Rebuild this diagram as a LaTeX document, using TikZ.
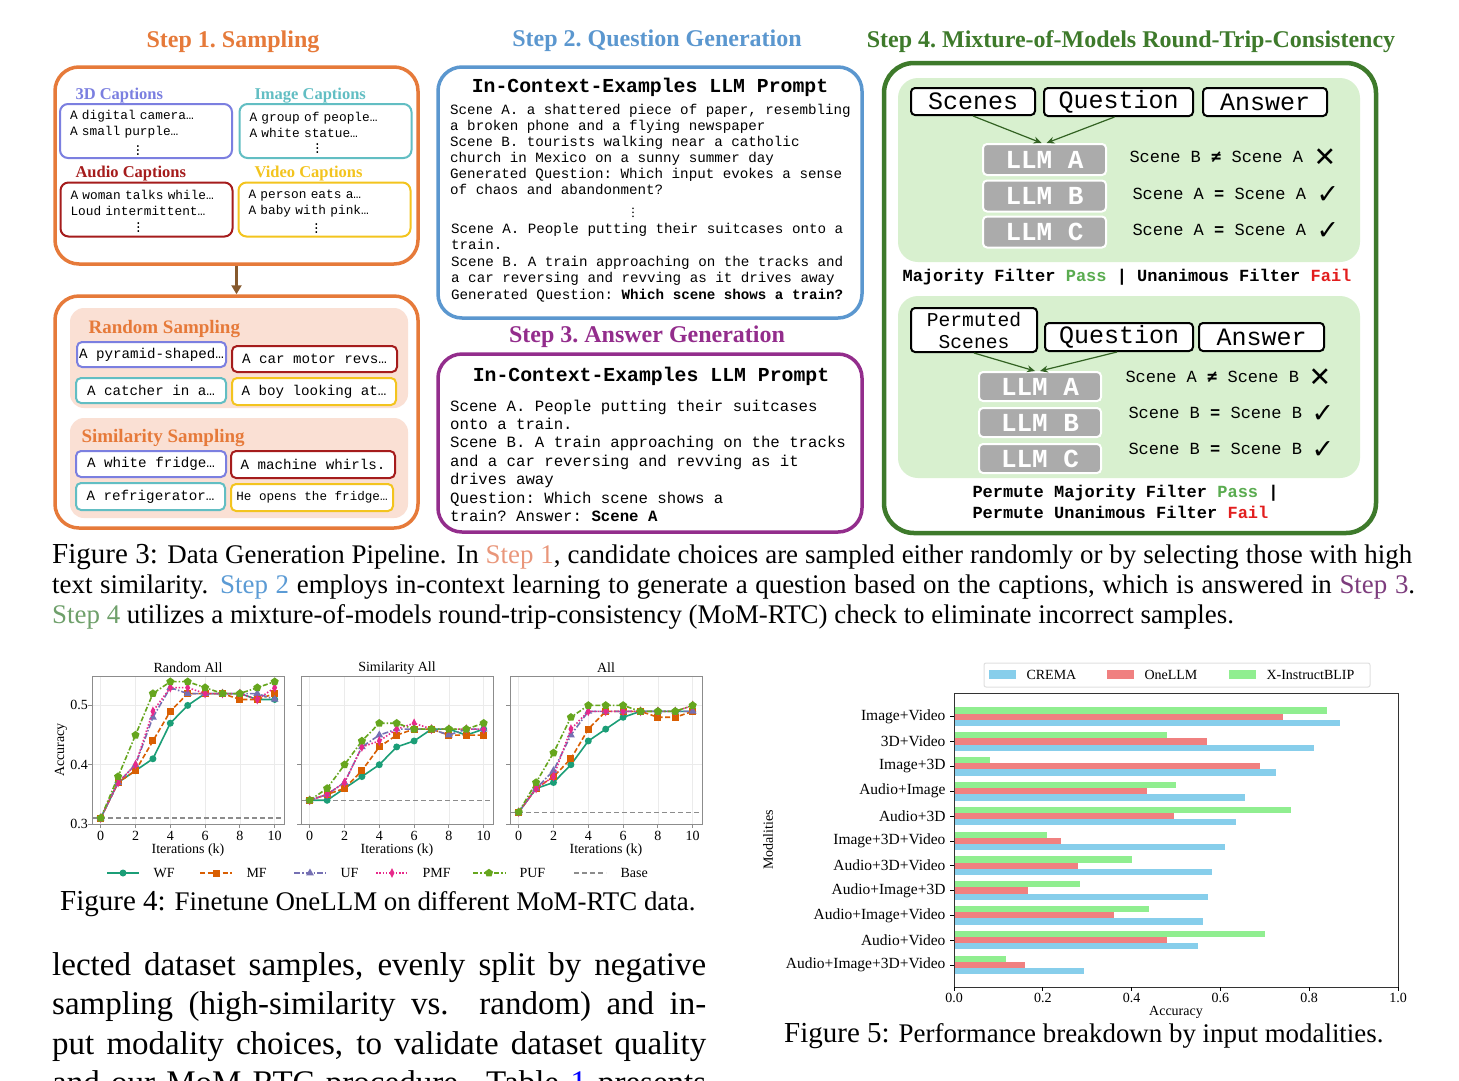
\documentclass[tikz,border=0pt]{standalone}
\usepackage{fontspec}
\setmainfont{Liberation Serif}
\setmonofont{Liberation Mono}
\newfontfamily\symfont{DejaVu Sans}
\newfontfamily\symmono{DejaVu Sans Mono}
\usepackage{xcolor}
\usetikzlibrary{shapes.geometric}
\usetikzlibrary{arrows.meta}
\usetikzlibrary{positioning}

\definecolor{sone}{RGB}{230,122,58}
\definecolor{stwo}{RGB}{91,151,207}
\definecolor{sthree}{RGB}{147,45,140}
\definecolor{sfour}{RGB}{62,122,43}
\definecolor{capthreed}{RGB}{123,127,224}
\definecolor{capimage}{RGB}{98,190,195}
\definecolor{capaudio}{RGB}{165,28,28}
\definecolor{capvideo}{RGB}{243,196,30}
\definecolor{salmonbg}{RGB}{250,224,212}
\definecolor{mintbg}{RGB}{216,240,207}
\definecolor{llmgray}{RGB}{171,171,171}
\definecolor{passgreen}{RGB}{90,172,80}
\definecolor{failred}{RGB}{226,30,30}
\definecolor{cone}{RGB}{233,150,122}
\definecolor{ctwo}{RGB}{91,155,213}
\definecolor{cthree}{RGB}{125,60,125}
\definecolor{cfour}{RGB}{111,160,107}
\definecolor{wf}{RGB}{27,158,119}
\definecolor{mf}{RGB}{217,95,2}
\definecolor{uf}{RGB}{117,112,179}
\definecolor{pmf}{RGB}{231,41,138}
\definecolor{puf}{RGB}{102,166,30}
\definecolor{crema}{RGB}{135,206,235}
\definecolor{onellm}{RGB}{240,128,128}
\definecolor{xiblip}{RGB}{144,238,144}

\tikzset{
  font={\fontsize{14pt}{16pt}\selectfont}}

% one accuracy curve: x origin, line style, marker style, values k=0..10
\newcommand{\accplot}[4]{%
  \foreach \v [count=\k from 0] in {#4}{\coordinate (m\k) at ({#1+8.7+\k*17.4},{824-(\v-0.3)*593});}
  \draw[#2] (m0) -- (m1) -- (m2) -- (m3) -- (m4) -- (m5) -- (m6) -- (m7) -- (m8) -- (m9) -- (m10);
  \foreach \k in {0,...,10}{\node[#3] at (m\k) {};}
}

\begin{document}
\begin{tikzpicture}[x=1pt, y=-1pt]

    \tikzset{
      steptitle/.style = {font={\fontsize{24pt}{26pt}\selectfont\bfseries\frenchspacing}},
      bigframe/.style = {draw, line width=3.5pt, rounded corners=24pt, inner sep=0pt},
      caphead/.style = {font={\fontsize{16.5pt}{18pt}\selectfont\bfseries}},
      capbox/.style = {draw, line width=2pt, rounded corners=8pt, fill=white, inner xsep=10pt, inner ysep=0pt,
        text width=152pt, minimum height=54pt, align=left, font={\fontsize{12.8pt}{16pt}\selectfont\ttfamily}},
      panel/.style = {fill=salmonbg, rounded corners=14pt, minimum width=338pt, minimum height=100pt, inner sep=0pt},
      pickhead/.style = {font={\fontsize{19pt}{20pt}\selectfont\bfseries}, text=sone, anchor=base west},
      pickbox/.style = {draw, line width=2pt, rounded corners=5pt, fill=white, inner sep=0pt,
        font={\fontsize{14.2pt}{16pt}\selectfont\ttfamily}},
      prompthead/.style = {font={\fontsize{19.8pt}{22pt}\selectfont\ttfamily\bfseries}},
      prompttext/.style = {anchor=north west, align=left, inner sep=0pt},
      mintpanel/.style = {fill=mintbg, rounded corners=20pt, minimum width=462pt, inner sep=0pt},
      inbox/.style = {draw, line width=2pt, rounded corners=4pt, fill=white, inner sep=0pt,
        font={\fontsize{25pt}{22pt}\selectfont\ttfamily}},
      llm/.style = {draw=white, line width=2pt, fill=llmgray, rounded corners=4pt, inner sep=0pt,
        minimum width=123pt, minimum height=31pt, text=white, font={\fontsize{26pt}{26pt}\selectfont\ttfamily\bfseries}},
      check/.style = {anchor=base west, font={\fontsize{17pt}{18pt}\selectfont\ttfamily}},
      verdict/.style = {font={\fontsize{27pt}{27pt}\selectfont\symfont}},
      filterln/.style = {font={\fontsize{17pt}{20pt}\selectfont\ttfamily\bfseries}},
      garrow/.style = {-{Stealth[length=8pt,width=7pt]}, draw=sfour!80!black, line width=1.2pt},
      capfig/.style = {anchor=base west, inner sep=0pt, font={\fontsize{26.9pt}{30pt}\selectfont}},
      bodyln/.style = {anchor=base west, inner sep=0pt, font={\fontsize{33pt}{39pt}\selectfont}},
      gridln/.style = {draw=black!8, line width=0.6pt},
      axframe/.style = {draw=black!45, line width=1pt},
      plotlab/.style = {font={\fontsize{14pt}{15pt}\selectfont}},
      wfln/.style = {draw=wf, line width=1.6pt},
      mfln/.style = {draw=mf, line width=1.6pt, dash pattern=on 5pt off 2.5pt},
      ufln/.style = {draw=uf, line width=1.6pt, dash pattern=on 6pt off 2pt on 1.5pt off 2pt},
      pmfln/.style = {draw=pmf, line width=1.6pt, dash pattern=on 1.5pt off 1.8pt},
      pufln/.style = {draw=puf, line width=1.6pt, dash pattern=on 5pt off 2pt on 1.5pt off 2pt},
      baseln/.style = {draw=black!45, line width=1.3pt, dash pattern=on 5pt off 3pt},
      wfmk/.style = {circle, fill=wf, minimum size=7pt, inner sep=0pt},
      mfmk/.style = {rectangle, fill=mf, minimum size=7pt, inner sep=0pt},
      ufmk/.style = {regular polygon, regular polygon sides=3, fill=uf, minimum size=9pt, inner sep=0pt},
      pmfmk/.style = {diamond, fill=pmf, minimum width=5pt, minimum height=10pt, inner sep=0pt},
      pufmk/.style = {regular polygon, regular polygon sides=5, fill=puf, minimum size=8.5pt, inner sep=0pt}
    }

    \fill[white] (0,0) rectangle (1459,1080);
    \useasboundingbox (0,0) rectangle (1459,1080);

    % step 1
    \node[steptitle, text=sone] (ttlone) at (233,42) {Step 1. Sampling};
    \node[bigframe, draw=sone, minimum width=363pt, minimum height=197pt] (pool) at (236.5,165.5) {};
    \node[caphead, text=capthreed, anchor=base west] (hthreed) at (72,99) {3D Captions};
    \node[caphead, text=capimage, anchor=base west] (himage) at (251,99) {Image Captions};
    \node[caphead, text=capaudio, anchor=base west] (haudio) at (72,177) {Audio Captions};
    \node[caphead, text=capvideo, anchor=base west] (hvideo) at (251,177) {Video Captions};
    \node[capbox, draw=capthreed] (bthreed) at (146,131) {\rule{0pt}{13pt}A digital camera…\\A small purple…\\\hspace*{64pt}$\vdots$};
    \node[capbox, draw=capimage] (bimage) at (325.5,131) {\rule{0pt}{13pt}A group of people…\\A white statue…\\\hspace*{64pt}$\vdots$};
    \node[capbox, draw=capaudio] (baudio) at (146.5,209.5) {\rule{0pt}{13pt}A woman talks while…\\Loud intermittent…\\\hspace*{64pt}$\vdots$};
    \node[capbox, draw=capvideo] (bvideo) at (324.5,209.5) {\rule{0pt}{13pt}A person eats a…\\A baby with pink…\\\hspace*{64pt}$\vdots$};

    \node[bigframe, draw=sone, minimum width=363pt, minimum height=232pt] (pick) at (236.5,412) {};
    \draw[-{Triangle[length=9pt,width=10pt]}, draw=brown!70!black, line width=3pt] (pool.south) -- (pick.north);
    \node[panel] (prand) at (239,358) {};
    \node[panel] (psim) at (239,468) {};
    \node[pickhead] (hrand) at (85,333) {Random Sampling};
    \node[pickhead] (hsim) at (78,442) {Similarity Sampling};
    \node[pickbox, draw=capthreed, minimum width=149pt, minimum height=25pt] (rthreed) at (151.5,354.5) {A pyramid-shaped…};
    \node[pickbox, draw=capaudio, minimum width=165pt, minimum height=26pt] (raudio) at (314.5,359) {A car motor revs…};
    \node[pickbox, draw=capimage, minimum width=150pt, minimum height=25pt] (rimage) at (151,390.5) {A catcher in a…};
    \node[pickbox, draw=capvideo, minimum width=164pt, minimum height=27pt] (rvideo) at (314,391.5) {A boy looking at…};
    \node[pickbox, draw=capthreed, minimum width=150pt, minimum height=26pt] (sthreed) at (151,464) {A white fridge…};
    \node[pickbox, draw=capaudio, minimum width=164pt, minimum height=27pt] (saudio) at (313,464.5) {A machine whirls.};
    \node[pickbox, draw=capimage, minimum width=149pt, minimum height=27pt] (simage) at (150.5,496.5) {A refrigerator…};
    \node[pickbox, draw=capvideo, minimum width=162pt, minimum height=27pt, font={\fontsize{12.6pt}{14pt}\selectfont\ttfamily}] (svideo) at (312,497.5) {He opens the fridge…};

    % step 2
    \node[steptitle, text=stwo] (ttltwo) at (657,41) {Step 2. Question Generation};
    \node[bigframe, draw=stwo, minimum width=424pt, minimum height=251pt] (qgen) at (650,192.5) {};
    \node[prompthead] (qhead) at (650,87) {In-Context-Examples LLM Prompt};
    \node[prompttext, font={\fontsize{14.2pt}{16.1pt}\selectfont\ttfamily}] (qfirst) at (450,104) {Scene A. a shattered piece of paper, resembling\\a broken phone and a flying newspaper\\Scene B. tourists walking near a catholic\\church in Mexico on a sunny summer day\\Generated Question: Which input evokes a sense\\of chaos and abandonment?};
    \node[font={\fontsize{14pt}{14pt}\selectfont}, inner sep=0pt] (qdots) at (633,210) {$\vdots$};
    \node[prompttext, font={\fontsize{14.2pt}{16.5pt}\selectfont\ttfamily}] (qsecond) at (451,223) {Scene A. People putting their suitcases onto a\\train.\\Scene B. A train approaching on the tracks and\\a car reversing and revving as it drives away\\Generated Question: \textbf{Which scene shows a train?}};

    % step 3
    \node[steptitle, text=sthree] (ttlthree) at (647,337) {Step 3. Answer Generation};
    \node[bigframe, draw=sthree, minimum width=424pt, minimum height=178pt] (agen) at (650,443) {};
    \node[prompthead] (ahead) at (651,376) {In-Context-Examples LLM Prompt};
    \node[prompttext, font={\fontsize{15.7pt}{18.4pt}\selectfont\ttfamily}] (atext) at (450,399.5) {Scene A. People putting their suitcases\\onto a train.\\Scene B. A train approaching on the tracks\\and a car reversing and revving as it\\drives away\\Question: Which scene shows a\\train? Answer: \textbf{Scene A}};

    % step 4
    \node[steptitle, text=sfour] (ttlfour) at (1131,42) {Step 4. Mixture-of-Models Round-Trip-Consistency};
    \node[bigframe, draw=sfour, line width=4.5pt, rounded corners=30pt, minimum width=492pt, minimum height=470pt] (rtc) at (1130,298) {};
    \node[mintpanel, minimum height=184pt] (mintA) at (1129,170) {};
    \node[mintpanel, minimum height=182pt] (mintB) at (1129,387) {};

    \node[inbox, minimum width=124pt, minimum height=27pt] (scA) at (973,101.5) {Scenes};
    \node[inbox, minimum width=149pt, minimum height=28pt] (qA) at (1118.5,102) {Question};
    \node[inbox, minimum width=124pt, minimum height=28pt] (ansA) at (1265,102) {Answer};
    \node[llm] (llmA) at (1044.5,159.5) {LLM A};
    \node[llm] (llmB) at (1044.5,196) {LLM B};
    \node[llm] (llmC) at (1044.5,232) {LLM C};
    \draw[garrow] (scA.south) -- ([xshift=-3pt]llmA.north);
    \draw[garrow] ([xshift=-4pt]qA.south) -- ([xshift=2pt]llmA.north);
    \node[check] (cA) at (1126,162) {Scene B {\symmono\bfseries ≠} Scene A};
    \node[check] (cB) at (1129,199) {Scene A \textbf{=} Scene A};
    \node[check] (cC) at (1129,235) {Scene A \textbf{=} Scene A};
    \node[verdict] (xA) at (1325,158) {✕};
    \node[verdict] (okB) at (1328,195) {✓};
    \node[verdict] (okC) at (1328,231) {✓};
    \node[filterln] (fA) at (1127,277) {Majority Filter \textcolor{passgreen}{Pass} | Unanimous Filter \textcolor{failred}{Fail}};

    \node[inbox, minimum width=126pt, minimum height=44pt, align=center, font={\fontsize{19.6pt}{22pt}\selectfont\ttfamily}] (scB) at (974,330) {Permuted\\Scenes};
    \node[inbox, minimum width=148pt, minimum height=28pt] (qB) at (1119,337) {Question};
    \node[inbox, minimum width=125pt, minimum height=28pt] (ansB) at (1261.5,337) {Answer};
    \node[llm, minimum width=122pt, minimum height=29pt] (llmAp) at (1040,386.5) {LLM A};
    \node[llm, minimum width=122pt, minimum height=29pt] (llmBp) at (1040,422.5) {LLM B};
    \node[llm, minimum width=122pt, minimum height=29pt] (llmCp) at (1040,458.5) {LLM C};
    \draw[garrow] (scB.south) -- ([xshift=-5pt]llmAp.north);
    \draw[garrow] ([xshift=-2pt]qB.south) -- ([xshift=0pt]llmAp.north);
    \node[check] (cAp) at (1122,382) {Scene A {\symmono\bfseries ≠} Scene B};
    \node[check] (cBp) at (1125,418) {Scene B \textbf{=} Scene B};
    \node[check] (cCp) at (1125,454) {Scene B \textbf{=} Scene B};
    \node[verdict] (xAp) at (1320,378) {✕};
    \node[verdict] (okBp) at (1323,414) {✓};
    \node[verdict] (okCp) at (1323,450) {✓};
    \node[filterln, anchor=base west] (fB) at (969,497) {Permute Majority Filter \textcolor{passgreen}{Pass} |};
    \node[filterln, anchor=base west] (fBB) at (969,518) {Permute Unanimous Filter \textcolor{failred}{Fail}};

    % caption of figure 3
    \node[capfig] (capA) at (52,563) {\makebox[1360pt][s]{{\fontsize{29pt}{30pt}\selectfont Figure 3:} Data Generation Pipeline. In \textcolor{cone}{Step 1}, candidate choices are sampled either randomly or by selecting those with high}};
    \node[capfig] (capB) at (52,593) {\makebox[1363pt][s]{text similarity. \textcolor{ctwo}{Step 2} employs in-context learning to generate a question based on the captions, which is answered in \textcolor{cthree}{Step 3}.}};
    \node[capfig] (capC) at (52,623) {\textcolor{cfour}{Step 4} utilizes a mixture-of-models round-trip-consistency (MoM-RTC) check to eliminate incorrect samples.};

    % figure 4
    \foreach \fx/\fname in {92/Random All,301/Similarity All,510/All}{
      \foreach \k in {0,2,...,10}
        \draw[gridln] ({\fx+8.7+\k*17.4},676) -- ({\fx+8.7+\k*17.4},824);
      \foreach \v in {0.4,0.5}
        \draw[gridln] (\fx,{824-(\v-0.3)*593}) -- ({\fx+192},{824-(\v-0.3)*593});
      \draw[axframe] (\fx,676) rectangle ({\fx+192},824);
      \foreach \v in {0.3,0.4,0.5}
        \draw[axframe] (\fx,{824-(\v-0.3)*593}) -- ({\fx-4},{824-(\v-0.3)*593});
      \foreach \k in {0,2,...,10}{
        \draw[axframe] ({\fx+8.7+\k*17.4},824) -- ({\fx+8.7+\k*17.4},828);
        \node[plotlab] at ({\fx+8.7+\k*17.4},836) {\k};
      }
      \node[plotlab] at ({\fx+96},668) {\fname};
      \node[plotlab] at ({\fx+96},850) {Iterations (k)};
    }
    \foreach \v in {0.3,0.4,0.5}
      \node[plotlab, anchor=east, inner sep=0pt] at (88,{824-(\v-0.3)*593}) {\v};
    \node[plotlab, rotate=90, inner sep=0pt] (acclab) at (61,750) {Accuracy};
    \draw[baseln] (92,{824-0.01*593}) -- (284,{824-0.01*593});
    \draw[baseln] (301,{824-0.04*593}) -- (493,{824-0.04*593});
    \draw[baseln] (510,{824-0.02*593}) -- (702,{824-0.02*593});

    \accplot{92}{wfln}{wfmk}{0.31,0.37,0.39,0.41,0.47,0.50,0.52,0.52,0.52,0.51,0.51}
    \accplot{92}{mfln}{mfmk}{0.31,0.37,0.39,0.44,0.49,0.52,0.52,0.52,0.51,0.51,0.52}
    \accplot{92}{ufln}{ufmk}{0.31,0.37,0.40,0.48,0.53,0.52,0.52,0.52,0.52,0.52,0.51}
    \accplot{92}{pmfln}{pmfmk}{0.31,0.37,0.40,0.49,0.53,0.53,0.52,0.52,0.52,0.51,0.53}
    \accplot{92}{pufln}{pufmk}{0.31,0.38,0.45,0.52,0.54,0.54,0.53,0.52,0.52,0.53,0.54}
    \accplot{301}{wfln}{wfmk}{0.34,0.34,0.36,0.38,0.40,0.43,0.44,0.46,0.46,0.45,0.46}
    \accplot{301}{mfln}{mfmk}{0.34,0.35,0.36,0.39,0.43,0.45,0.46,0.46,0.45,0.45,0.45}
    \accplot{301}{ufln}{ufmk}{0.34,0.35,0.37,0.43,0.45,0.46,0.46,0.46,0.45,0.46,0.46}
    \accplot{301}{pmfln}{pmfmk}{0.34,0.35,0.37,0.43,0.44,0.46,0.47,0.46,0.46,0.46,0.46}
    \accplot{301}{pufln}{pufmk}{0.34,0.36,0.40,0.44,0.47,0.47,0.46,0.46,0.46,0.46,0.47}
    \accplot{510}{wfln}{wfmk}{0.32,0.36,0.37,0.40,0.44,0.46,0.48,0.49,0.49,0.49,0.49}
    \accplot{510}{mfln}{mfmk}{0.32,0.36,0.38,0.41,0.46,0.49,0.49,0.49,0.48,0.48,0.49}
    \accplot{510}{ufln}{ufmk}{0.32,0.36,0.39,0.45,0.49,0.49,0.49,0.49,0.49,0.49,0.49}
    \accplot{510}{pmfln}{pmfmk}{0.32,0.36,0.38,0.46,0.49,0.49,0.49,0.49,0.49,0.49,0.50}
    \accplot{510}{pufln}{pufmk}{0.32,0.37,0.42,0.48,0.50,0.50,0.50,0.49,0.49,0.49,0.50}

    % legend of figure 4
    \foreach \lx/\ln/\lm/\lt in {107/wfln/wfmk/WF,200/mfln/mfmk/MF,294/ufln/ufmk/UF,376/pmfln/pmfmk/PMF,473/pufln/pufmk/PUF}{
      \draw[\ln] (\lx,873) -- ({\lx+32},873);
      \node[\lm] at ({\lx+16},873) {};
      \node[plotlab, anchor=west] at ({\lx+43},873) {\lt};
    }
    \draw[baseln] (574,873) -- (606,873);
    \node[plotlab, anchor=west] (lbase) at (617,873) {Base};
    \node[capfig] (capfour) at (60,910) {{\fontsize{29pt}{30pt}\selectfont Figure 4:} Finetune OneLLM on different MoM-RTC data.};

    % body text
    \node[bodyln] (txtA) at (52,975) {\makebox[654pt][s]{lected dataset samples, evenly split by negative}};
    \node[bodyln] (txtB) at (52,1014.5) {\makebox[654pt][s]{sampling (high-similarity vs.\ \ random) and in-}};
    \node[bodyln] (txtC) at (52,1054) {\makebox[654pt][s]{put modality choices, to validate dataset quality}};
    \node[bodyln] (txtD) at (52,1093.5) {\makebox[654pt][s]{and our MoM-RTC procedure. Table \textcolor{blue}{1} presents}};

    % figure 5
    \draw[draw=black!12, line width=1pt, rounded corners=2pt] (984,663) rectangle (1370,687);
    \foreach \px/\pc/\pt in {989/crema/CREMA,1107/onellm/OneLLM,1229/xiblip/X-InstructBLIP}{
      \fill[\pc] (\px,670) rectangle ({\px+27},679);
      \node[plotlab, anchor=west] at ({\px+34},675) {\pt};
    }
    \foreach \mname/\vg/\vr/\vb [count=\i from 0] in {Image+Video/0.84/0.74/0.87,3D+Video/0.48/0.57/0.81,Image+3D/0.08/0.69/0.725,Audio+Image/0.50/0.435/0.656,Audio+3D/0.76/0.495/0.635,Image+3D+Video/0.21/0.24/0.61,Audio+3D+Video/0.40/0.28/0.58,Audio+Image+3D/0.283/0.166/0.573,Audio+Image+Video/0.44/0.36/0.56,Audio+Video/0.70/0.48/0.55,Audio+Image+3D+Video/0.117/0.16/0.292}{
      \pgfmathsetmacro{\cy}{716.7+24.83*\i}
      \fill[xiblip] (954,{\cy-9.3}) rectangle ({954+444*\vg},{\cy-3.1});
      \fill[onellm] (954,{\cy-3.1}) rectangle ({954+444*\vr},{\cy+3.1});
      \fill[crema] (954,{\cy+3.1}) rectangle ({954+444*\vb},{\cy+9.3});
      \draw[line width=0.7pt] (954,\cy) -- (950,\cy);
      \node[plotlab, font={\fontsize{15.5pt}{16pt}\selectfont}, anchor=east] at (949,\cy) {\mname};
    }
    \draw[line width=0.9pt, draw=black!80] (954,693) rectangle (1398,987);
    \foreach \t in {0.0,0.2,0.4,0.6,0.8,1.0}{
      \draw[line width=0.7pt] ({954+444*\t},987) -- ({954+444*\t},991);
      \node[plotlab] at ({954+444*\t},998) {\t};
    }
    \node[plotlab] (xlabfive) at (1176,1012) {Accuracy};
    \node[plotlab, rotate=90] (ylabfive) at (768,840) {Modalities};
    \node[capfig] (capfive) at (784,1042) {{\fontsize{29pt}{30pt}\selectfont Figure 5:} Performance breakdown by input modalities.};

\end{tikzpicture}
\end{document}
